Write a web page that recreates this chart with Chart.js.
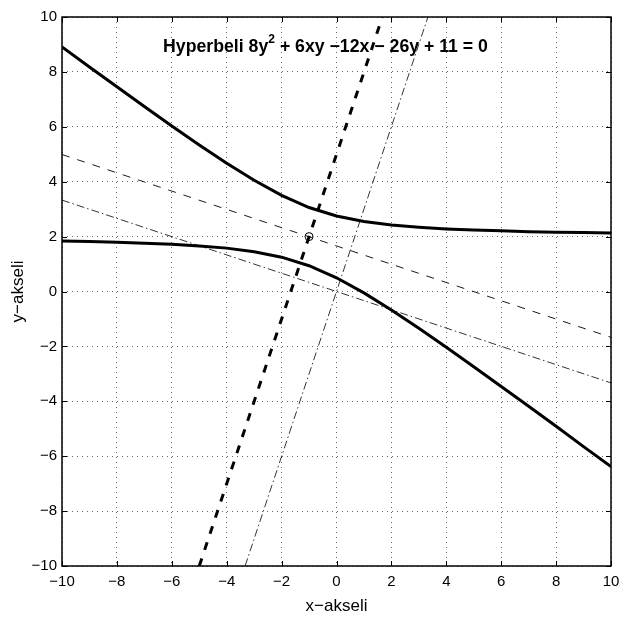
<!DOCTYPE html>
<html>
<head>
<meta charset="utf-8">
<script src="https://cdn.jsdelivr.net/npm/chart.js@4/dist/chart.umd.min.js"></script>
<style>
  html, body { margin: 0; padding: 0; background: #fff; }
  #wrap { width: 620px; height: 619px; }
</style>
</head>
<body>
<div id="wrap"><canvas id="hyperbeliChart" width="620" height="619"></canvas></div>
<script>
// Hyperbelin haarat, luettu kuvasta (x = -10 ... 10)
const xArvot = [-10, -9, -8, -7, -6, -5, -4, -3, -2, -1, 0, 1, 2, 3, 4, 5, 6, 7, 8, 9, 10];
const ylaHaara = [8.91, 8.18, 7.46, 6.74, 6.03, 5.34, 4.67, 4.05, 3.5, 3.06, 2.75, 2.55, 2.42, 2.34, 2.28, 2.24, 2.21, 2.18, 2.16, 2.15, 2.13];
const alaHaara = [1.84, 1.82, 1.79, 1.76, 1.72, 1.66, 1.58, 1.45, 1.25, 0.94, 0.5, -0.05, -0.67, -1.34, -2.03, -2.74, -3.46, -4.18, -4.91, -5.65, -6.38];

// Paaakselit keskipisteen kautta (paksu ja ohut katkoviiva)
const akseliJyrkkaX = [-5, 1.67];
const akseliJyrkkaY = [-10, 10];
const akseliLoivaX = [-10, 10];
const akseliLoivaY = [4.99, -1.67];

// Kierretyt akselit origon kautta (pistekatkoviiva)
const origoJyrkkaX = [-3.33, 3.33];
const origoJyrkkaY = [-10, 10];
const origoLoivaX = [-10, 10];
const origoLoivaY = [3.33, -3.33];

// Keskipiste
const keskipisteX = [-1];
const keskipisteY = [2];

const tickArvot = [-10, -8, -6, -4, -2, 0, 2, 4, 6, 8, 10];

function pisteet(xs, ys) {
  return xs.map((x, i) => ({ x: x, y: ys[i] }));
}

const FONTTI = "'Liberation Sans', Arial, Helvetica, sans-serif";

function miinus(v) {
  return String(v).replace("-", "\u2212");
}

// Kehys, sisaan osoittavat tikit, otsikko ja akselien nimet
const kehysPlugin = {
  id: "kehys",
  afterDraw(chart) {
    const ctx = chart.ctx;
    const a = chart.chartArea;
    const xs = chart.scales.x;
    const ys = chart.scales.y;
    ctx.save();
    ctx.strokeStyle = "#000";
    ctx.lineWidth = 1;
    ctx.setLineDash([]);
    ctx.beginPath();
    tickArvot.forEach(v => {
      const px = Math.round(xs.getPixelForValue(v)) + 0.5;
      ctx.moveTo(px, a.bottom); ctx.lineTo(px, a.bottom - 5);
      ctx.moveTo(px, a.top); ctx.lineTo(px, a.top + 5);
      const py = Math.round(ys.getPixelForValue(v)) + 0.5;
      ctx.moveTo(a.left, py); ctx.lineTo(a.left + 5, py);
      ctx.moveTo(a.right, py); ctx.lineTo(a.right - 5, py);
    });
    ctx.stroke();
    ctx.lineWidth = 1.5;
    ctx.strokeRect(a.left, a.top, a.right - a.left, a.bottom - a.top);

    // otsikko kuvaajan sisalla
    const osat = [
      { t: "Hyperbeli 8y", sup: false },
      { t: "2", sup: true },
      { t: " + 6xy \u221212x \u2212 26y + 11 = 0", sup: false }
    ];
    const isoF = "bold 17.7px " + FONTTI;
    const pieniF = "bold 12px " + FONTTI;
    let leveys = 0;
    osat.forEach(o => {
      ctx.font = o.sup ? pieniF : isoF;
      leveys += ctx.measureText(o.t).width;
    });
    let x = 325.5 - leveys / 2;
    const y = 47;
    ctx.fillStyle = "#000";
    ctx.textBaseline = "middle";
    ctx.textAlign = "left";
    osat.forEach(o => {
      ctx.font = o.sup ? pieniF : isoF;
      ctx.fillText(o.t, x, o.sup ? y - 7 : y);
      x += ctx.measureText(o.t).width;
    });

    // akselien nimet
    ctx.font = "17px " + FONTTI;
    ctx.textAlign = "center";
    ctx.fillText("x\u2212akseli", (a.left + a.right) / 2, 606);
    ctx.translate(18, (a.top + a.bottom) / 2);
    ctx.rotate(-Math.PI / 2);
    ctx.fillText("y\u2212akseli", 0, 0);
    ctx.restore();
  }
};

const ctx = document.getElementById("hyperbeliChart").getContext("2d");
new Chart(ctx, {
  type: "scatter",
  data: {
    datasets: [
      {
        label: "Kierretty akseli 1",
        data: pisteet(origoJyrkkaX, origoJyrkkaY),
        showLine: true, borderColor: "#000", borderWidth: 0.8,
        borderDash: [8, 3, 1.5, 3], pointRadius: 0
      },
      {
        label: "Kierretty akseli 2",
        data: pisteet(origoLoivaX, origoLoivaY),
        showLine: true, borderColor: "#000", borderWidth: 0.8,
        borderDash: [8, 3, 1.5, 3], pointRadius: 0
      },
      {
        label: "Paaakseli loiva",
        data: pisteet(akseliLoivaX, akseliLoivaY),
        showLine: true, borderColor: "#000", borderWidth: 0.9,
        borderDash: [8, 8], pointRadius: 0
      },
      {
        label: "Paaakseli jyrkka",
        data: pisteet(akseliJyrkkaX, akseliJyrkkaY),
        showLine: true, borderColor: "#000", borderWidth: 3,
        borderDash: [8, 9], pointRadius: 0
      },
      {
        label: "Ylahaara",
        data: pisteet(xArvot, ylaHaara),
        showLine: true, borderColor: "#000", borderWidth: 3,
        pointRadius: 0, tension: 0
      },
      {
        label: "Alahaara",
        data: pisteet(xArvot, alaHaara),
        showLine: true, borderColor: "#000", borderWidth: 3,
        pointRadius: 0, tension: 0
      },
      {
        label: "Keskipiste",
        data: pisteet(keskipisteX, keskipisteY),
        showLine: false, pointStyle: "circle", pointRadius: 4,
        borderColor: "#000", borderWidth: 1, backgroundColor: "rgba(0,0,0,0)"
      }
    ]
  },
  options: {
    responsive: false,
    animation: false,
    layout: { padding: { left: 0, right: 9, top: 17, bottom: 0 } },
    plugins: {
      legend: { display: false },
      tooltip: { enabled: false }
    },
    scales: {
      x: {
        type: "linear", min: -10, max: 10,
        afterFit(s) { s.height = 53; s.paddingLeft = 0; s.paddingRight = 0; },
        afterBuildTicks(s) { s.ticks = tickArvot.map(v => ({ value: v })); },
        ticks: {
          color: "#000", padding: 7,
          font: { family: FONTTI, size: 15 },
          callback: v => miinus(v)
        },
        grid: {
          color: "rgba(0,0,0,0.6)", lineWidth: 1, drawTicks: false
        },
        border: { display: false, dash: [1, 4] }
      },
      y: {
        type: "linear", min: -10, max: 10,
        afterFit(s) { s.width = 62; s.paddingTop = 0; s.paddingBottom = 0; },
        afterBuildTicks(s) { s.ticks = tickArvot.map(v => ({ value: v })); },
        ticks: {
          color: "#000", padding: 5,
          font: { family: FONTTI, size: 15 },
          callback: v => miinus(v)
        },
        grid: {
          color: "rgba(0,0,0,0.6)", lineWidth: 1, drawTicks: false
        },
        border: { display: false, dash: [1, 4] }
      }
    }
  },
  plugins: [kehysPlugin]
});
</script>
</body>
</html>
